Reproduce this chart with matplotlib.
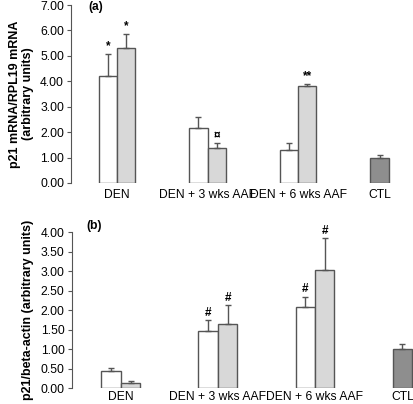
import matplotlib
matplotlib.use("Agg")
import matplotlib.pyplot as plt

plt.rcParams['font.family'] = ['Liberation Sans', 'DejaVu Sans']

groups = ["DEN", "DEN + 3 wks AAF", "DEN + 6 wks AAF", "CTL"]

# panel (a): p21 mRNA / RPL19 mRNA
a_white = [4.21, 2.17, 1.30]
a_white_err = [0.87, 0.43, 0.28]
a_gray = [5.30, 1.37, 3.82]
a_gray_err = [0.57, 0.20, 0.09]
a_ctl = 0.98
a_ctl_err = 0.12
a_white_mark = ["*", "", ""]
a_gray_mark = ["*", "¤", "**"]

# panel (b): p21 / beta-actin
b_white = [0.45, 1.47, 2.08]
b_white_err = [0.06, 0.28, 0.27]
b_gray = [0.13, 1.66, 3.03]
b_gray_err = [0.06, 0.48, 0.82]
b_ctl = 1.00
b_ctl_err = 0.13
b_white_mark = ["", "#", "#"]
b_gray_mark = ["", "#", "#"]

pos = [0, 1, 2]
ctl_pos = 2.9
w = 0.2
edge = "#555555"

fig = plt.figure(figsize=(4.13, 4.04), dpi=100)
ax_a = fig.add_axes([71 / 413, 1 - 183 / 404, 1 - 71 / 413, 178 / 404])
ax_b = fig.add_axes([71.5 / 413, 1 - 388.3 / 404, 1 - 71.5 / 413, 156 / 404])


def draw(ax, white, white_err, gray, gray_err, ctl, ctl_err, wmark, gmark, mark_off):
    xw = [p - w / 2 for p in pos]
    xg = [p + w / 2 for p in pos]
    ekw = dict(ecolor=edge, elinewidth=1, capsize=2, capthick=1)
    ax.bar(xw, white, w, yerr=[[0] * 3, white_err], color="white",
           edgecolor=edge, linewidth=1, error_kw=ekw)
    ax.bar(xg, gray, w, yerr=[[0] * 3, gray_err], color="#d8d8d8",
           edgecolor=edge, linewidth=1, error_kw=ekw)
    ax.bar([ctl_pos], [ctl], w, yerr=[[0], [ctl_err]], color="#8e8e8e",
           edgecolor=edge, linewidth=1, error_kw=ekw)
    for x, v, e, m in zip(xw, white, white_err, wmark):
        if m:
            ax.text(x, v + e + mark_off, m, ha="center", va="bottom",
                    fontsize=8.5, fontweight="bold")
    for x, v, e, m in zip(xg, gray, gray_err, gmark):
        if m:
            ax.text(x, v + e + mark_off, m, ha="center", va="bottom",
                    fontsize=8.5, fontweight="bold")
    for s in ["top", "right", "bottom"]:
        ax.spines[s].set_visible(False)
    ax.spines["left"].set_color(edge)
    ax.set_xticks(pos + [ctl_pos])
    ax.set_xticklabels(groups, fontsize=8.7)
    ax.tick_params(axis="x", length=0, pad=4)
    ax.tick_params(axis="y", labelsize=8.7, length=3, pad=2, color=edge)


draw(ax_a, a_white, a_white_err, a_gray, a_gray_err, a_ctl, a_ctl_err,
     a_white_mark, a_gray_mark, 0.05)
ax_a.set_xlim(-0.508, 3.27)
ax_a.set_ylim(0, 7)
ax_a.set_yticks([i for i in range(8)])
ax_a.set_yticklabels(["%.2f" % i for i in range(8)])
ax_a.set_ylabel("p21 mRNA/RPL19 mRNA\n(arbitrary units)", fontsize=9,
                fontweight="bold", labelpad=4)
ax_a.text(0.05, 0.99, "(a)", transform=ax_a.transAxes, fontsize=8.7,
          fontweight="bold", va="center")

draw(ax_b, b_white, b_white_err, b_gray, b_gray_err, b_ctl, b_ctl_err,
     b_white_mark, b_gray_mark, 0.03)
ax_b.tick_params(axis="x", pad=2)
ax_b.set_xlim(-0.508, 3.01)
ax_b.set_ylim(0, 4)
ax_b.set_yticks([i * 0.5 for i in range(9)])
ax_b.set_yticklabels(["%.2f" % (i * 0.5) for i in range(9)])
ax_b.set_ylabel("p21/beta-actin (arbitrary units)", fontsize=9,
                fontweight="bold", labelpad=5)
ax_b.text(0.043, 1.04, "(b)", transform=ax_b.transAxes, fontsize=8.7,
          fontweight="bold", va="center")

fig.savefig("out.png", dpi=100)
